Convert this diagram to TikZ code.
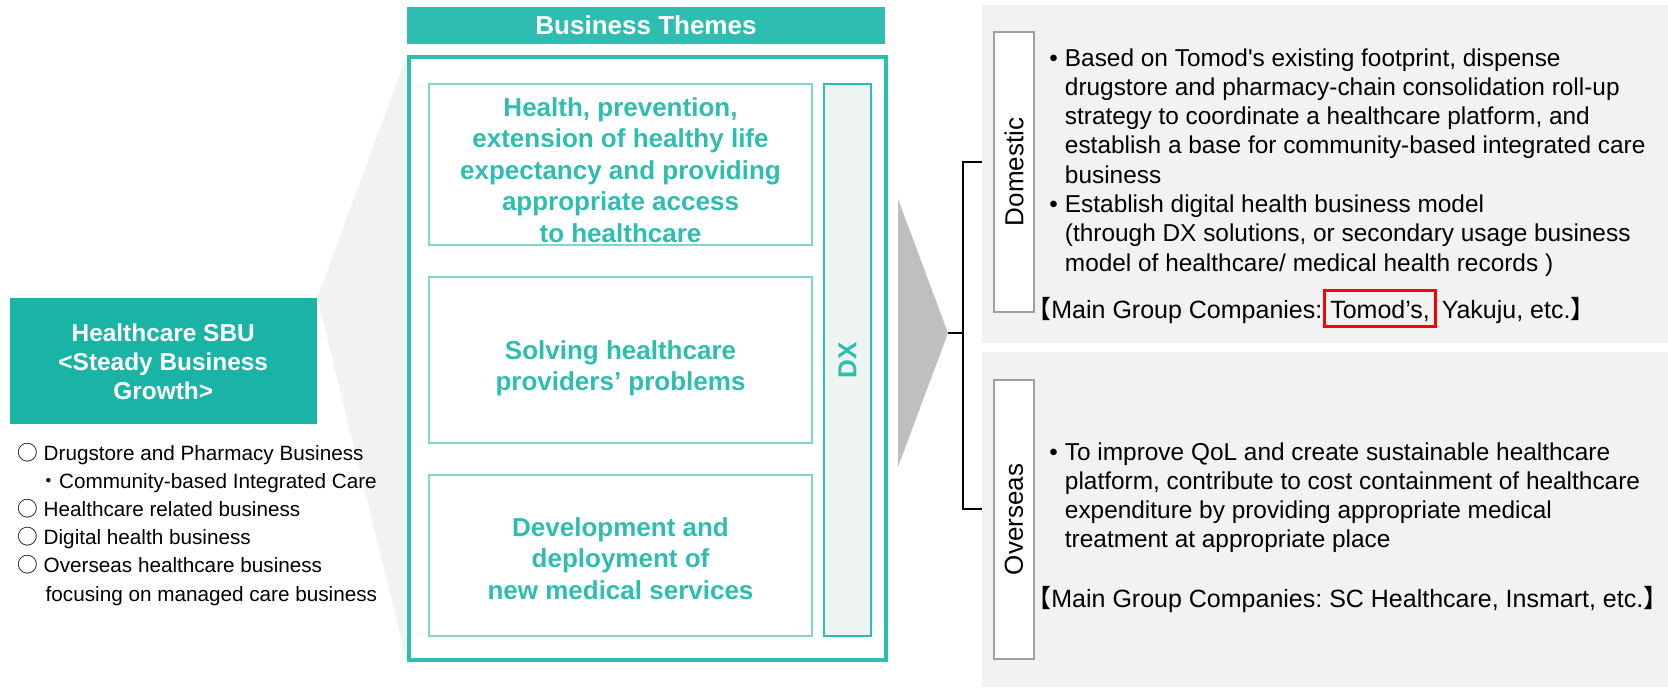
\documentclass[tikz,border=0pt]{standalone}
\usepackage{fontspec}
\setmainfont{Liberation Sans}
\newfontfamily\cjk{Noto Sans CJK JP}
\usetikzlibrary{fit,backgrounds}
\definecolor{themeteal}{HTML}{2EBDB1}
\definecolor{sbuteal}{HTML}{19B4A6}
\definecolor{themeline}{HTML}{7FD6CD}
\definecolor{dxfill}{HTML}{EEF4F3}
\definecolor{panelgray}{HTML}{F2F2F2}
\definecolor{arrowgray}{HTML}{BFBFBF}
\definecolor{labelgray}{HTML}{A0A0A0}
\newcommand\fsz[2]{\fontsize{#1}{#2}\selectfont}
\frenchspacing

\begin{document}
\begin{tikzpicture}[x=0.5pt,y=-0.5pt,
  area/.style={fit={#1}, inner sep=0pt},
  themebox/.style={draw=themeline, line width=0.75pt, fill=white},
  themetext/.style={text=themeteal, font=\bfseries\fsz{13}{15.75}, align=center, inner sep=0pt},
  sidelabel/.style={draw=labelgray, line width=0.7pt, fill=white},
  sidetext/.style={rotate=90, font=\fsz{13}{15}, inner sep=0pt},
  body/.style={font=\fsz{12.2}{14.65}, anchor=base west, inner sep=0pt},
  companies/.style={font=\fsz{12.5}{14.65}, anchor=base west, inner sep=0pt},
  bracket/.style={black, line width=1pt},
]
\useasboundingbox (0,0) rectangle (1668,687);

% grey panels on the right
\node[area={(982,5) (1668,343)}, fill=panelgray] (dompanel) {};
\node[area={(982,352) (1668,687)}, fill=panelgray] (ovspanel) {};

% Healthcare SBU box
\node[area={(9.5,298) (317,424)}, fill=sbuteal] (sbu) {};
\node[text=white, font=\bfseries\fsz{12.2}{14.6}, align=center, inner sep=0pt,
      yshift=-0.5pt] (sbutext) at (sbu)
  {Healthcare SBU\\<Steady Business\\Growth>};

% list of businesses
\node[anchor=base west, inner sep=0pt, font=\fsz{10.35}{14.1}] (sbulist) at (17,460)
  {\begin{tabular}[t]{@{}l@{\hspace{2.8pt}}l@{}}
   {\cjk ○} & Drugstore and Pharmacy Business\\
            & \hspace*{-2.6pt}{\cjk ・}Community-based Integrated Care\\
   {\cjk ○} & Healthcare related business\\
   {\cjk ○} & Digital health business\\
   {\cjk ○} & Overseas healthcare business\\
            & \hspace*{1pt}focusing on managed care business
   \end{tabular}};

% Business Themes header and frame
\node[area={(407,7) (885,44)}, fill=themeteal] (header) {};
\node[text=white, font=\bfseries\fsz{13}{15}, inner sep=0pt] (headertext) at (header) {Business Themes};
\node[area={(409,57) (886,660)}, draw=themeteal, line width=2pt] (frame) {};

% funnel from the SBU box to the frame
\begin{scope}[on background layer]
  \fill[panelgray] (sbu.north east) -- (frame.north west) -- (frame.south west) -- cycle;
\end{scope}

% theme boxes
\node[area={(429,84) (812,245)}, themebox] (t1) {};
\node[area={(429,277) (812,443)}, themebox] (t2) {};
\node[area={(429,475) (812,636)}, themebox] (t3) {};
\node[themetext, yshift=-2.6pt] (t1text) at (t1)
  {Health, prevention,\\extension of healthy life\\expectancy and providing\\appropriate access\\to healthcare};
\node[themetext, yshift=-4.25pt] (t2text) at (t2)
  {Solving healthcare\\providers’ problems};
\node[themetext, yshift=-1.5pt] (t3text) at (t3)
  {Development and\\deployment of\\new medical services};

% DX bar
\node[area={(824,84) (871,636)}, draw=themeteal, fill=dxfill, line width=1pt] (dx) {};
\node[rotate=90, text=themeteal, font=\bfseries\fsz{13}{15}, inner sep=0pt] (dxtext) at (847.5,360) {DX};

% arrow and bracket
\fill[arrowgray] (898,199) -- (948,333) coordinate (tip) -- (898,467) -- cycle;
\coordinate (bmid) at (963,333);
\coordinate (domjoin) at (982,162);
\coordinate (ovsjoin) at (982,509);
\draw[bracket] (tip) -- (bmid);
\draw[bracket] (domjoin) -| (bmid) |- (ovsjoin);

% side labels
\node[area={(994,32) (1034,312)}, sidelabel] (dombox) {};
\node[sidetext] (domtext) at (dombox) {Domestic};
\node[area={(994,380) (1034,659)}, sidelabel] (ovsbox) {};
\node[sidetext] (ovstext) at (ovsbox) {Overseas};

% domestic description
\node[body] (dombody) at (1049,66)
  {\begin{tabular}[t]{@{}l@{\hspace{3.5pt}}l@{}}
   • & Based on Tomod\textquotesingle s existing footprint, dispense\\
     & drugstore and pharmacy-chain consolidation roll-up\\
     & strategy to coordinate a healthcare platform, and\\
     & establish a base for community-based integrated care\\
     & business\\
   • & Establish digital health business model\\
     & (through DX solutions, or secondary usage business\\
     & model of healthcare/ medical health records )
   \end{tabular}};
\node[companies] (dommgc) at (1026,318) {{\cjk 【}Main Group Companies:};
\node[draw=red, line width=1.5pt, font=\fsz{12.5}{14.65}, anchor=base west,
      inner xsep=3pt, inner ysep=0pt, text height=13.75pt, text depth=4.25pt]
  (tomods) at (dommgc.base east) {Tomod’s,};
\node[companies, xshift=2pt] (dommgcend) at (tomods.base east) {Yakuju, etc.{\cjk 】}};

% overseas description
\node[body] (ovsbody) at (1049,460)
  {\begin{tabular}[t]{@{}l@{\hspace{3.5pt}}l@{}}
   • & To improve QoL and create sustainable healthcare\\
     & platform, contribute to cost containment of healthcare\\
     & expenditure by providing appropriate medical\\
     & treatment at appropriate place
   \end{tabular}};
\node[companies] (ovsmgc) at (1026,607)
  {{\cjk 【}Main Group Companies: SC Healthcare, Insmart, etc.{\cjk 】}};
\end{tikzpicture}
\end{document}
